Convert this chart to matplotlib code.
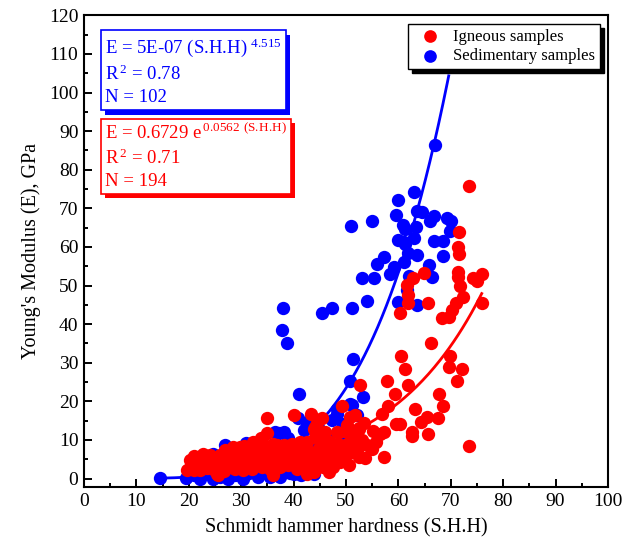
import numpy as np
import matplotlib
matplotlib.use("Agg")
import matplotlib.pyplot as plt
from matplotlib import patheffects
from matplotlib.ticker import MultipleLocator

plt.rcParams["font.family"] = ["Liberation Serif", "DejaVu Serif"]
plt.rcParams["mathtext.fontset"] = "custom"
plt.rcParams["mathtext.rm"] = "Liberation Serif"
plt.rcParams["mathtext.default"] = "regular"

# Schmidt hammer hardness vs Young's modulus, (S.H.H, E in GPa)
sedimentary_pts = np.array([
    (14.5, 0.2), (19.5, 0.2), (22.2, 0.0), (24.6, 0.0), (27.5, 0.0),
    (30.4, 0.0), (33.2, 0.3), (35.5, 0.5), (37.4, 0.3), (39.3, 1.3),
    (40.0, 1.2), (43.8, 1.2), (24.7, 6.4), (27.0, 8.6), (30.9, 9.2),
    (36.5, 12.0), (38.1, 12.0), (37.3, 11.8), (40.9, 15.6), (41.0, 22.0),
    (41.9, 12.5), (42.5, 14.2), (43.2, 15.1), (44.7, 13.3), (47.3, 15.1),
    (48.3, 18.1), (48.2, 16.8), (50.8, 19.4), (51.1, 19.0), (52.1, 16.4),
    (53.3, 21.1), (50.7, 25.2), (51.4, 30.9), (38.0, 44.2), (37.8, 38.4),
    (38.7, 35.1), (45.5, 43.0), (47.3, 44.1), (51.1, 44.1), (54.0, 46.0),
    (53.0, 52.0), (55.4, 51.9), (55.9, 55.5), (50.9, 65.5), (54.9, 66.8),
    (57.2, 57.3), (58.4, 52.9), (59.1, 54.9), (60.0, 45.8), (61.6, 48.8),
    (63.5, 44.9), (61.0, 56.2), (61.9, 58.4), (63.5, 57.9), (60.0, 61.8),
    (61.1, 61.4), (61.3, 60.8), (62.9, 62.3), (60.8, 65.7), (61.3, 64.7),
    (63.4, 65.1), (59.5, 68.2), (60.0, 72.2), (63.0, 74.2), (63.5, 69.2),
    (64.5, 69.0), (66.1, 66.8), (66.7, 67.9), (69.3, 67.5), (70.1, 66.8),
    (69.9, 64.0), (66.8, 61.6), (68.5, 61.6), (68.5, 57.7), (65.9, 55.3),
    (66.4, 52.1), (67.0, 86.5), (21.0, 1.0), (23.5, 1.5), (26.0, 0.5),
    (28.8, 1.0), (31.5, 1.5), (34.0, 1.5), (36.5, 2.0), (38.5, 2.5),
    (41.5, 0.8), (29.0, 5.0), (32.5, 7.0), (35.0, 4.0), (42.0, 6.0),
    (45.0, 5.5), (46.5, 11.0), (49.5, 14.0), (26.0, 4.0), (33.5, 9.5),
    (39.0, 10.5), (44.0, 9.0), (47.5, 7.5), (50.0, 10.0), (31.8, 3.0),
    (22.5, 3.0), (62.0, 52.5),
])

igneous_pts = np.array([
    (73.4, 75.7), (71.6, 63.8), (71.3, 59.9), (71.6, 58.2), (64.8, 53.3),
    (62.8, 51.9), (61.6, 50.1), (61.9, 47.5), (61.9, 45.4), (60.3, 42.9),
    (65.7, 45.5), (71.3, 53.6), (71.3, 52.1), (71.8, 49.9), (72.4, 47.1),
    (71.0, 45.4), (70.2, 43.6), (69.6, 41.9), (68.3, 41.5), (74.3, 51.9),
    (75.9, 53.0), (75.9, 45.5), (75.0, 51.2), (66.3, 35.0), (60.5, 31.8),
    (61.3, 28.3), (69.9, 31.8), (69.6, 28.9), (72.1, 28.3), (71.1, 25.3),
    (57.9, 25.3), (61.9, 24.2), (59.4, 21.8), (67.8, 21.8), (68.6, 18.8),
    (63.2, 18.1), (58.1, 18.8), (56.8, 16.8), (65.4, 15.9), (67.5, 15.8),
    (64.3, 14.6), (59.6, 14.0), (60.3, 14.0), (57.2, 12.0), (62.6, 12.0),
    (62.6, 10.9), (65.6, 11.4), (73.4, 8.3), (57.3, 5.5), (52.7, 24.2),
    (49.2, 18.7), (51.7, 16.4), (52.4, 13.2), (50.2, 13.8), (50.2, 12.0),
    (55.2, 12.2), (54.0, 8.8), (54.9, 7.7), (51.7, 6.8), (52.4, 5.5),
    (53.7, 5.3), (48.9, 4.2), (40.0, 16.4), (43.3, 16.8), (45.4, 15.8),
    (50.8, 16.0), (44.1, 13.3), (48.3, 12.0), (51.0, 11.0), (52.4, 12.9),
    (44.1, 10.7), (45.4, 9.9), (41.2, 9.4), (39.7, 8.6), (42.5, 7.3),
    (46.3, 8.6), (48.9, 7.3), (51.1, 8.1), (40.3, 5.5), (43.2, 5.1),
    (45.7, 4.7), (47.9, 4.2), (41.6, 2.9), (45.7, 2.9), (48.9, 4.7),
    (43.8, 1.6), (47.6, 2.9), (35.0, 15.8), (35.0, 11.8), (32.3, 9.4),
    (28.5, 8.1), (27.9, 6.4), (26.6, 6.4), (22.8, 6.4), (24.1, 6.0),
    (20.2, 4.7), (21.5, 4.7), (19.6, 2.1), (22.2, 2.1), (24.7, 2.5),
    (25.6, 0.8), (27.9, 2.9), (29.8, 3.8), (31.1, 5.5), (33.0, 7.7),
    (34.2, 9.0), (36.1, 9.0), (38.1, 8.6), (39.7, 9.0), (32.3, 5.5),
    (34.2, 5.1), (35.8, 6.4), (37.4, 6.0), (39.3, 5.5), (30.4, 2.1),
    (32.0, 2.5), (33.9, 2.9), (35.5, 2.5), (37.4, 2.9), (39.0, 3.4),
    (36.1, 0.8), (40.6, 2.5), (29.8, 8.1), (43.8, 12.9), (52.1, 7.3),
    (20.9, 2.1), (25.3, 1.2), (20.5, 3.5), (21.8, 3.2), (23.0, 4.5),
    (23.5, 2.8), (24.5, 4.2), (25.5, 5.0), (26.2, 3.5), (27.0, 4.8),
    (28.2, 5.5), (28.8, 2.5), (29.5, 6.0), (30.5, 4.5), (31.0, 7.0),
    (31.8, 3.8), (32.8, 4.2), (33.5, 6.2), (34.5, 3.8), (35.0, 7.5),
    (36.0, 4.5), (36.8, 7.2), (37.8, 4.2), (38.5, 7.0), (39.5, 6.8),
    (40.5, 4.0), (41.0, 7.0), (41.8, 5.5), (42.8, 3.5), (43.5, 6.5),
    (44.2, 4.0), (44.8, 7.8), (45.5, 6.2), (46.5, 5.5), (47.0, 9.5),
    (47.8, 6.0), (48.5, 9.0), (49.5, 5.8), (49.8, 8.8), (50.5, 6.5),
    (42.5, 9.5), (46.0, 12.0), (38.8, 8.0), (36.8, 8.8), (33.8, 10.5),
    (30.5, 8.5), (26.0, 6.0), (22.0, 5.5), (24.0, 5.5), (27.0, 7.5),
    (44.5, 14.5), (45.0, 11.0), (53.0, 10.0), (55.8, 9.5), (56.5, 11.5),
    (53.5, 14.5), (50.5, 3.5), (46.8, 1.8), (42.5, 1.2), (21.0, 5.8),
    (23.8, 3.6), (26.8, 2.0), (29.0, 4.2), (33.0, 3.5), (37.0, 5.0),
    (40.0, 7.5), (44.0, 2.5), (48.0, 8.5), (52.0, 9.5),
])

# regression results
sed_a, sed_b, sed_r2 = 5e-07, 4.515, 0.78
ign_a, ign_b, ign_r2 = 0.6729, 0.0562, 0.71
sed_fit_end = 69.6

sed_x, sed_y = sedimentary_pts.T
ign_x, ign_y = igneous_pts.T

fig = plt.figure(figsize=(6.34, 5.47), dpi=100)
ax = fig.add_axes([0.1325, 0.1097, 0.8265, 0.8623])

xs = np.linspace(sed_x.min(), sed_fit_end, 200)
xi = np.linspace(ign_x.min(), ign_x.max(), 200)

ax.scatter(sed_x, sed_y, s=92, color="#0000ff", lw=0, zorder=2,
           label="Sedimentary samples")
ax.plot(xs, sed_a * xs ** sed_b, color="#0000ff", lw=2.0, zorder=3)
ax.scatter(ign_x, ign_y, s=92, color="#ff0000", lw=0, zorder=4,
           label="Igneous samples")
ax.plot(xi, ign_a * np.exp(ign_b * xi), color="#ff0000", lw=2.0, zorder=5)

ax.set_xlim(0, 100)
ax.set_ylim(-2.2, 120)
ax.xaxis.set_major_locator(MultipleLocator(10))
ax.xaxis.set_minor_locator(MultipleLocator(5))
ax.yaxis.set_major_locator(MultipleLocator(10))
ax.yaxis.set_minor_locator(MultipleLocator(5))
ax.tick_params(which="both", direction="in", labelsize=14, width=1.4,
               top=False, right=False)
ax.tick_params(which="major", length=6, pad=4)
ax.tick_params(which="minor", length=3)
for sp in ax.spines.values():
    sp.set_linewidth(1.5)

ax.set_xlabel("Schmidt hammer hardness (S.H.H)", fontsize=14.5, labelpad=6)
ax.set_ylabel("Young's Modulus (E), GPa", fontsize=14.5, labelpad=6)

handles, labels = ax.get_legend_handles_labels()
leg = ax.legend(handles[::-1], labels[::-1], loc="upper right",
                fontsize=12, frameon=True, fancybox=False,
                edgecolor="black", handletextpad=0.4, borderpad=0.3,
                labelspacing=0.2, handlelength=2.0, borderaxespad=0.0,
                markerscale=0.95, bbox_to_anchor=(0.985, 0.982),
                shadow={"color": "black", "alpha": 1, "ox": 3, "oy": -3})
leg.get_frame().set_linewidth(1.0)

sed_txt = (f"E = {sed_a:.0E} (S.H.H)$^{{\\,\\,{sed_b}}}$\n"
           f"R$^{{\\,2}}$ = {sed_r2}\nN = {len(sed_x)}")
ign_txt = (f"E = {ign_a} e$^{{\\,{ign_b}\\ (S.\\!H.\\!H)}}$\n"
           f"R$^{{\\,2}}$ = {ign_r2}\nN = {len(ign_x)}")

boxes = [(sed_txt, "#0000ff", 0.955), (ign_txt, "#ff0000", 0.772)]
for txt, col, ypos in boxes:
    t = ax.text(0.04, ypos, txt, transform=ax.transAxes, color=col,
                fontsize=13.5, va="top", ha="left", linespacing=1.38,
                zorder=6,
                bbox=dict(boxstyle="square,pad=0.22", fc="white", ec=col,
                          lw=1.2))
    t.get_bbox_patch().set_path_effects([
        patheffects.SimplePatchShadow(offset=(3, -3),
                                      shadow_rgbFace=col, alpha=1),
        patheffects.Normal()])

fig.savefig("out.png", dpi=100)
